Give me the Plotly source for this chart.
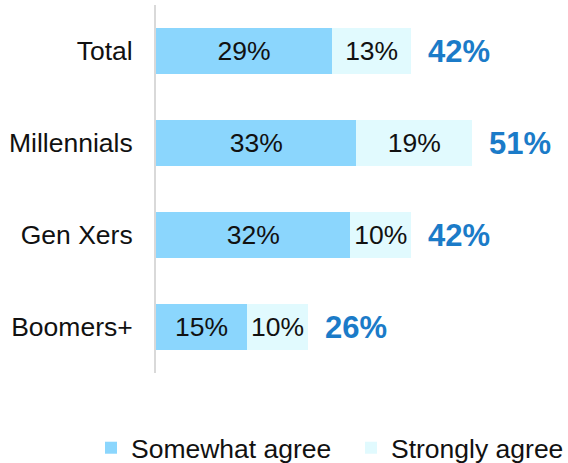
import plotly.graph_objects as go

# Agreement by generation (percent of respondents)
groups = ["Total", "Millennials", "Gen Xers", "Boomers+"]
somewhat_agree = [29, 33, 32, 15]
strongly_agree = [13, 19, 10, 10]
net_agree = [42, 51, 42, 26]

FONT = "Liberation Sans, Arial, sans-serif"
C_SOMEWHAT = "#8BD6FD"
C_STRONGLY = "#E1FAFE"
C_NET = "#1B7BC8"
TXT = 26.5

fig = go.Figure()
fig.add_trace(go.Bar(
    y=groups, x=somewhat_agree, orientation="h", name="Somewhat agree",
    marker=dict(color=C_SOMEWHAT, line=dict(width=0)),
    text=[f"{v}%" for v in somewhat_agree], textposition="inside",
    insidetextanchor="middle", textfont=dict(family=FONT, size=TXT, color="#111111"),
    legend="legend",
))
fig.add_trace(go.Bar(
    y=groups, x=strongly_agree, orientation="h", name="Strongly agree",
    marker=dict(color=C_STRONGLY, line=dict(width=0)),
    text=[f"{v}%" for v in strongly_agree], textposition="inside",
    insidetextanchor="middle", textfont=dict(family=FONT, size=TXT, color="#111111"),
    legend="legend2",
))

# Net agreement labels to the right of each stacked bar
for g, s, st, n in zip(groups, somewhat_agree, strongly_agree, net_agree):
    fig.add_annotation(
        x=s + st, y=g, text=f"<b>{n}%</b>", showarrow=False,
        xanchor="left", xshift=15,
        font=dict(family=FONT, size=31, color=C_NET),
    )

legend_style = dict(
    orientation="h", xref="container", yref="container",
    y=1 - 448 / 463, xanchor="left", yanchor="middle",
    font=dict(family=FONT, size=TXT, color="#111111"),
    bgcolor="rgba(0,0,0,0)",
)

fig.update_layout(
    barmode="stack", bargap=0.5,
    width=568, height=463,
    margin=dict(l=156, r=5, t=5, b=90),
    paper_bgcolor="white", plot_bgcolor="white",
    font=dict(family=FONT, size=TXT, color="#111111"),
    showlegend=True,
    legend=dict(x=91 / 568, **legend_style),
    legend2=dict(x=351 / 568, **legend_style),
)
fig.update_xaxes(range=[0, 67], visible=False, showgrid=False, zeroline=False)
fig.update_yaxes(
    autorange="reversed", showgrid=False, zeroline=False,
    showline=True, linecolor="#D9D9D9", linewidth=2,
    ticks="", ticklabelstandoff=16,
    tickfont=dict(family=FONT, size=TXT, color="#111111"),
)

fig.write_html("out.html")
